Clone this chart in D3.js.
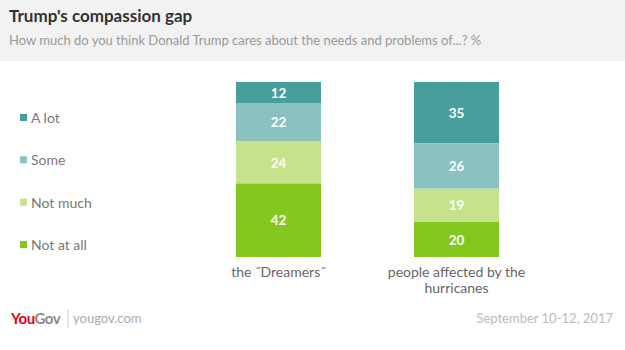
<!DOCTYPE html>
<html>
<head>
<meta charset="utf-8">
<script src="https://cdn.jsdelivr.net/npm/d3@7"></script>
<style>
  body { margin: 0; background: #fff; }
  text { font-family: Lato, "Open Sans", sans-serif; }
</style>
</head>
<body>
<div id="chart"></div>
<script>
const categories = ["the \"Dreamers\"", "people affected by the hurricanes"];
const categoryLines = [["the \u02ddDreamers\u02dd"], ["people affected by the", "hurricanes"]];
const responses = ["A lot", "Some", "Not much", "Not at all"];
const aLot = [12, 35];
const some = [22, 26];
const notMuch = [24, 19];
const notAtAll = [42, 20];
const colors = ["#479e9c", "#8ac1c1", "#c6e38b", "#84c71f"];

const W = 625, H = 350;
const svg = d3.select("#chart").append("svg")
    .attr("width", W)
    .attr("height", H);

// header band
svg.append("rect").attr("x", 0).attr("y", 0).attr("width", W).attr("height", 61).attr("fill", "#f2f2f2");
svg.append("text").attr("x", 9).attr("y", 22)
    .style("font-size", "17px").style("font-weight", "bold").attr("fill", "#333")
    .text("Trump's compassion gap");
svg.append("text").attr("x", 9).attr("y", 45)
    .style("font-size", "13px").attr("fill", "#999")
    .text("How much do you think Donald Trump cares about the needs and problems of...? %");

// stacked data
const series = [aLot, some, notMuch, notAtAll];
const rows = categories.map((c, i) => {
    const r = { category: c };
    responses.forEach((k, j) => r[k] = series[j][i]);
    return r;
});
const stack = d3.stack().keys(responses)(rows);

const x = d3.scaleBand().domain(categories).range([190, 545]).paddingInner(0.522).paddingOuter(0.258);
const y = d3.scaleLinear().domain([0, 100]).range([82, 257]);

const g = svg.append("g");
stack.forEach((layer, j) => {
    g.selectAll(null)
        .data(layer)
        .enter()
        .append("rect")
        .attr("x", d => x(d.data.category))
        .attr("y", d => y(d[0]))
        .attr("width", x.bandwidth())
        .attr("height", d => y(d[1]) - y(d[0]))
        .attr("fill", colors[j]);
    g.selectAll(null)
        .data(layer)
        .enter()
        .append("text")
        .attr("x", d => x(d.data.category) + x.bandwidth() / 2)
        .attr("y", d => (y(d[0]) + y(d[1])) / 2 + 5)
        .attr("text-anchor", "middle")
        .style("font-size", "13.5px")
        .style("font-weight", "bold")
        .attr("fill", "#fff")
        .text(d => d[1] - d[0]);
});

// category labels
categories.forEach((c, i) => {
    const t = svg.append("text")
        .attr("x", x(c) + x.bandwidth() / 2)
        .attr("y", 277)
        .attr("text-anchor", "middle")
        .style("font-size", "14px")
        .attr("fill", "#666");
    categoryLines[i].forEach((line, k) => {
        t.append("tspan").attr("x", x(c) + x.bandwidth() / 2).attr("dy", k ? 16 : 0).text(line);
    });
});

// legend
const ly = d3.scalePoint().domain(responses).range([118, 245]);
responses.forEach((r, j) => {
    svg.append("rect").attr("x", 20).attr("y", ly(r) - 4).attr("width", 7).attr("height", 7).attr("fill", colors[j]);
    svg.append("text").attr("x", 31).attr("y", ly(r) + 5)
        .style("font-size", "14px").attr("fill", "#777").text(r);
});

// footer
const logo = svg.append("text").attr("x", 11).attr("y", 324)
    .style("font-size", "15px").style("font-weight", "bold").style("letter-spacing", "-0.5px");
logo.append("tspan").attr("fill", "#e2001a").text("You");
logo.append("tspan").attr("fill", "#8a8a8a").text("Gov");
svg.append("line").attr("x1", 68).attr("x2", 68).attr("y1", 309).attr("y2", 328).attr("stroke", "#ccc");
svg.append("text").attr("x", 73).attr("y", 323)
    .style("font-size", "13px").attr("fill", "#aaa").text("yougov.com");
svg.append("text").attr("x", 613).attr("y", 323).attr("text-anchor", "end")
    .style("font-size", "13px").attr("fill", "#bbb").text("September 10-12, 2017");
</script>
</body>
</html>
